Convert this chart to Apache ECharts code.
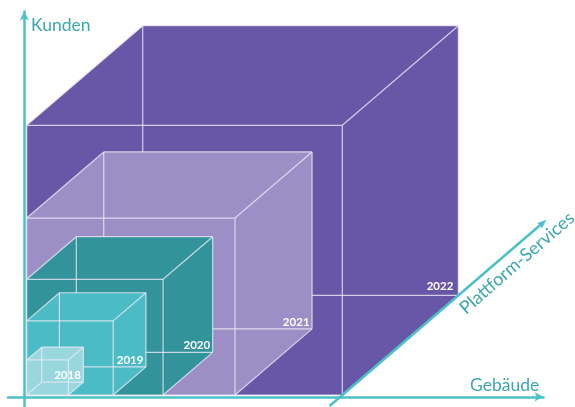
<!DOCTYPE html>
<html><head><meta charset="utf-8">
<script src="https://cdn.jsdelivr.net/npm/echarts@6/dist/echarts.min.js"></script>
<style>html,body{margin:0;padding:0;background:#fff}#c{width:575px;height:407px}</style>
</head><body><div id="c"></div>
<script>
// ---- data ----
const years = ['2018', '2019', '2020', '2021', '2022'];
const gebaeude = [13.2, 27.4, 43.2, 66.0, 100];    // x (width)
const kunden = [13.0, 27.5, 42.9, 65.6, 100];      // y (height)
const plattform = [12.9, 28.2, 42.8, 66.4, 100];   // z (depth)
const platformAxisRange = [-11, 176];
const axisTitles = { x: 'Gebäude', y: 'Kunden', z: 'Plattform-Services' };

// ---- style ----
const cubeColors = ['#97d7dd', '#4bbcc5', '#33939a', '#9b8fc5', '#6857a6'];
const edgeColor = 'rgba(238,234,248,0.8)';
const axisColor = '#4cc0c8';
const titleColor = '#3ba7ad';
const DX = 0.3676, DY = 0.3693;      // oblique projection of depth
const OFF = [2.4, -1.8];             // cube origin offset from axis line (px)

function project(api, x, y, z) {
  const c = api.coord([x + z * DX, y + z * DY]);
  return [c[0] + OFF[0], c[1] + OFF[1]];
}

const cubeData = years.map((y, i) => [i, gebaeude[i], kunden[i], plattform[i]]).reverse();

function renderCube(params, api) {
  const idx = api.value(0);
  const g = api.value(1), k = api.value(2), p = api.value(3);
  const P = (x, y, z) => project(api, x, y, z);
  const fbl = P(0, 0, 0), fbr = P(g, 0, 0), ftr = P(g, k, 0), ftl = P(0, k, 0);
  const bbl = P(0, 0, p), bbr = P(g, 0, p), btr = P(g, k, p), btl = P(0, k, p);
  const children = [{
    type: 'polygon',
    shape: { points: [fbl, fbr, bbr, btr, btl, ftl] },
    style: { fill: cubeColors[idx] }
  }];
  const edges = [
    [bbl, bbr], [bbl, btl], [bbl, fbl],
    [fbl, fbr], [fbr, ftr], [ftr, ftl], [ftl, fbl],
    [btl, btr], [btr, bbr],
    [ftl, btl], [ftr, btr], [fbr, bbr]
  ];
  edges.forEach(e => children.push({
    type: 'line',
    shape: { x1: e[0][0], y1: e[0][1], x2: e[1][0], y2: e[1][1] },
    style: { stroke: edgeColor, lineWidth: 1.2 }
  }));
  const big = idx === years.length - 1;
  children.push({
    type: 'text',
    x: bbr[0] - (big ? 5 : 2.5), y: bbr[1] - (big ? 3 : 1),
    style: {
      text: years[idx], fill: '#ffffff', align: 'right', verticalAlign: 'bottom',
      font: 'bold 11.5px Lato'
    }
  });
  return { type: 'group', children };
}

function renderPlatformAxis(params, api) {
  const g = api.value(0), z0 = api.value(1), z1 = api.value(2);
  const a = project(api, g, 0, z0), b = project(api, g, 0, z1);
  const dx = b[0] - a[0], dy = b[1] - a[1];
  const len = Math.sqrt(dx * dx + dy * dy);
  const ux = dx / len, uy = dy / len, nx = -uy, ny = ux;
  const ah = 9, aw = 3.5;
  const base = [b[0] - ux * ah, b[1] - uy * ah];
  return {
    type: 'group',
    children: [
      { type: 'line', shape: { x1: a[0], y1: a[1], x2: base[0], y2: base[1] },
        style: { stroke: axisColor, lineWidth: 2.5 } },
      { type: 'polygon', shape: { points: [b, [base[0] + nx * aw, base[1] + ny * aw], [base[0] - nx * aw, base[1] - ny * aw]] },
        style: { fill: axisColor } }
    ]
  };
}

const axisCommon = {
  type: 'value',
  axisLine: { show: true, onZero: true, symbol: ['none', 'arrow'], symbolSize: [7, 9],
    lineStyle: { color: axisColor, width: 2.5 } },
  axisTick: { show: false }, axisLabel: { show: false }, splitLine: { show: false }
};

const chart = echarts.init(document.getElementById('c'), null, { renderer: 'canvas' });
chart.setOption({
  animation: false,
  backgroundColor: '#ffffff',
  grid: { left: 8, right: 31.5, top: 11.5, bottom: 0, containLabel: false },
  xAxis: Object.assign({}, axisCommon, { min: -5.165, max: 164.5 }),
  yAxis: Object.assign({}, axisCommon, { min: -3.78, max: 142.86 }),
  series: [
    { type: 'custom', renderItem: renderCube, data: cubeData, clip: false, z: 3 },
    { type: 'custom', renderItem: renderPlatformAxis,
      data: [[gebaeude[gebaeude.length - 1], platformAxisRange[0], platformAxisRange[1]]], clip: false, z: 4 }
  ],
  graphic: [
    { type: 'text', x: 31, y: 25, style: { text: axisTitles.y, fill: titleColor, font: '17.5px Lato', verticalAlign: 'middle' } },
    { type: 'text', x: 470, y: 385, style: { text: axisTitles.x, fill: titleColor, font: '17.5px Lato', verticalAlign: 'middle' } },
    { type: 'text', x: 517, y: 263, rotation: 41 * Math.PI / 180,
      style: { text: axisTitles.z, fill: titleColor, font: '18px Lato', align: 'center', verticalAlign: 'middle' } }
  ]
});
</script></body></html>
